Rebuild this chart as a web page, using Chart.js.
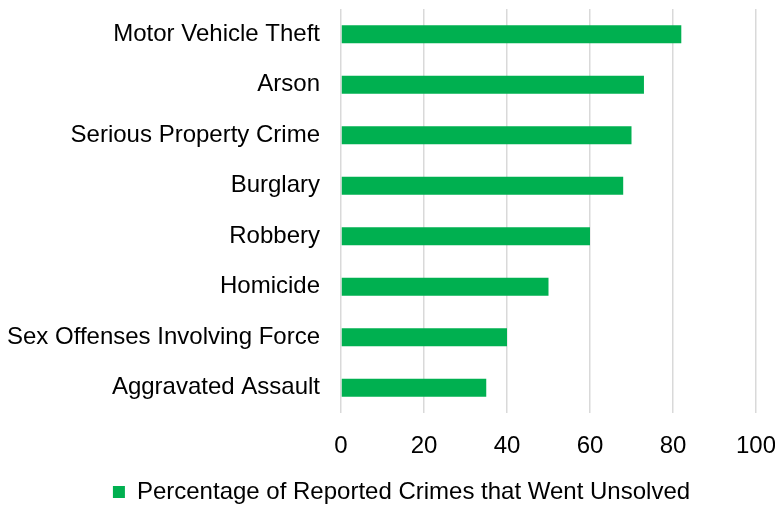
<!DOCTYPE html>
<html>
<head>
<meta charset="utf-8">
<script src="https://cdn.jsdelivr.net/npm/chart.js@4"></script>
<style>
  html, body { margin: 0; padding: 0; background: #fff; }
  #wrap { width: 775px; height: 508px; }
</style>
</head>
<body>
<div id="wrap"><canvas id="barChart"></canvas></div>
<script>
var crimeTypes = ["Motor Vehicle Theft", "Arson", "Serious Property Crime", "Burglary",
                  "Robbery", "Homicide", "Sex Offenses Involving Force", "Aggravated Assault"];
var unsolvedPct = [82, 73, 70, 68, 60, 50, 40, 35];
var xTicks = [0, 20, 40, 60, 80, 100];

Chart.defaults.font.family = "'Liberation Sans', Arial, sans-serif";
Chart.defaults.color = '#000';

// let the long category labels run past the padded left edge
var labelRoom = {
    id: 'labelRoom',
    afterLayout: function (chart) {
        chart.scales.y.left = 0;
    }
};

var ctx = document.getElementById("barChart").getContext('2d');
var myBarChart = new Chart(ctx, {
    type: 'bar',
    data: {
        labels: crimeTypes,
        datasets: [{
            label: "Percentage of Reported Crimes that Went Unsolved",
            data: unsolvedPct,
            backgroundColor: '#00b050',
            borderWidth: 0,
            barPercentage: 0.36,
            categoryPercentage: 1
        }]
    },
    options: {
        indexAxis: 'y',
        responsive: true,
        maintainAspectRatio: false,
        animation: false,
        layout: { padding: { left: 28, top: 9, right: 0, bottom: -6 } },
        scales: {
            x: {
                min: 0,
                max: 100,
                afterBuildTicks: function (scale) {
                    scale.ticks = xTicks.map(function (v) { return { value: v }; });
                },
                grid: { color: '#d9d9d9', lineWidth: 1.5, drawTicks: false },
                border: { display: false },
                ticks: { font: { size: 24 }, padding: 19 },
                afterFit: function (scale) {
                    scale.height = 62;
                    scale.paddingRight = 19;
                }
            },
            y: {
                grid: { display: false, drawTicks: false },
                border: { display: false },
                ticks: { font: { size: 24 }, padding: 21 },
                afterFit: function (scale) {
                    scale.width = 313;
                    scale.paddingTop = 0;
                    scale.paddingBottom = 0;
                }
            }
        },
        plugins: {
            legend: {
                position: 'bottom',
                labels: { boxWidth: 12, boxHeight: 12, font: { size: 24 }, padding: 5 }
            },
            tooltip: { enabled: false }
        }
    },
    plugins: [labelRoom]
});
</script>
</body>
</html>
